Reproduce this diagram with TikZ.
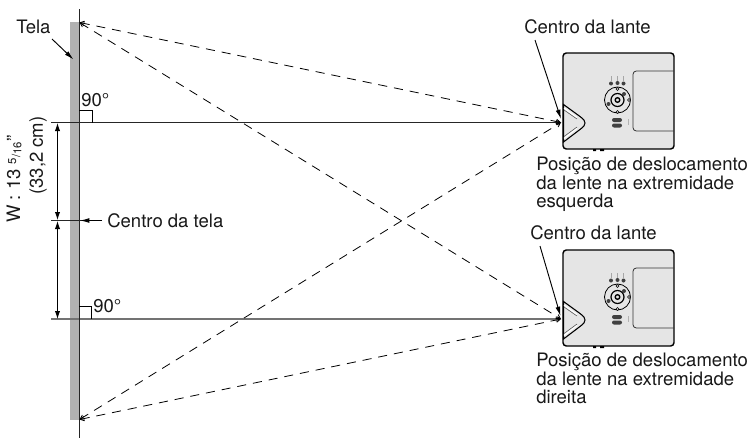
\documentclass[tikz,border=0pt]{standalone}
\usepackage{fontspec}
\setmainfont{TeX Gyre Heros}
\usetikzlibrary{arrows.meta}
\definecolor{scr}{gray}{0.7}
\definecolor{body}{gray}{0.9}
\tikzset{
  x=0.75pt,y=-0.75pt,
  lbl/.style={inner sep=0pt,font=\fontsize{13.9pt}{13.1pt}\selectfont,text=black!90},
  para/.style={lbl,align=left,anchor=north west},
  ln/.style={line width=0.7pt,black!85},
  dim/.style={line width=0.7pt,black,{Latex[length=6pt,width=4pt]}-{Latex[length=6pt,width=4pt]}},
  ptr/.style={line width=0.7pt,black,-{Latex[length=7pt,width=3.6pt]}},
  ray/.style={line width=0.6pt,black,dash pattern=on 6.8pt off 5.2pt,{Straight Barb[length=3pt,width=3.5pt]}-{Straight Barb[length=3pt,width=3.5pt]}},
  pj/.style={draw=black,line width=0.9pt},
  pjd/.style={fill=black!75},
}
\newcommand{\projector}[1]{%
\begin{scope}[yshift=#1]
  \filldraw[pj,fill=body,rounded corners=2.5pt,line width=1.1pt] (563,53) rectangle (674,149);
  \filldraw[pj,fill=body,line width=0.8pt] (563.5,104.5) -- (580,116.5) .. controls (584,119.5) and (585,121) .. (585,123) .. controls (585,125) and (584,126.5) .. (580,129.5) -- (563.5,142) -- cycle;
  \draw[line width=0.9pt,white] (564,108) -- (577,117.5) (564,138.5) -- (577,128.5);
  \draw[line width=0.4pt,black!70] (564,110) -- (577,119) (564,136.5) -- (577,127);
  \draw[draw=black!80,rounded corners=2.5pt,line width=0.6pt] (674,71) -- (633,71) -- (633,131) -- (674,131);
  \fill[pjd] (611,83.5) circle (2) (617.5,83) circle (2) (623.5,83.5) circle (2);
  \draw[line width=0.25pt,black!35] (611,76) -- (611,81) (617.5,76) -- (617.5,81) (623.5,76) -- (623.5,81);
  \draw[line width=0.6pt] (617.5,100) circle (13);
  \draw[line width=0.9pt,fill=body] (617.5,100) circle (6.5);
  \draw[line width=1pt,fill=body] (617.5,100) circle (2.3);
  \filldraw[fill=body,line width=0.4pt] (617.5,89) circle (1.5) (617.5,112) circle (1.5) (629,100) circle (1.5);
  \fill[pjd] (608.5,104) circle (2) (624,94) circle (2);
  \fill[pjd,rounded corners=1.5pt] (612,118) rectangle (622,122);
  \fill[pjd,rounded corners=1.5pt] (612,123.5) rectangle (622,127.5);
  \fill[black!30] (627.5,119) rectangle (629,125);
  \fill[black] (593,149) rectangle (596,151) (600,149) rectangle (604,151);
\end{scope}}
\begin{document}
\begin{tikzpicture}
\useasboundingbox (0,0) rectangle (751,439);
\fill[white] (0,0) rectangle (751,439);
\fill[scr] (70,22) rectangle (79,420);
\coordinate (st) at (79,9);
\coordinate (sb) at (79,438);
\coordinate (tl) at (79.5,22.5);
\coordinate (bl) at (79.5,419.5);
\coordinate (lu) at (561,122.5);
\coordinate (ll) at (561,319);
\coordinate (du) at (51,122.5);
\coordinate (dd) at (51,319);
\coordinate (dua) at (57.5,123);
\coordinate (dda) at (57.5,319);
\coordinate (dma) at (57.5,220);
\coordinate (dmb) at (57.5,221);
\coordinate (cl) at (51,220.5);
\coordinate (cr) at (102,220.5);
\coordinate (ca) at (80,220.5);
\draw[ln,-{Straight Barb[length=3pt,width=3.5pt]}] (du) -- (lu);
\draw[ln,black!55,line width=0.9pt,-{Straight Barb[length=3pt,width=3.5pt]}] (dd) -- (ll);
\draw[ln] (st) -- (sb);
\draw[ln] (cl) -- (cr);
\draw[ptr] (cr) -- (ca);
\draw[dim] (dua) -- (dma);
\draw[dim] (dmb) -- (dda);
\draw[ray] (tl) -- (lu);
\draw[ray] (tl) -- (ll);
\draw[ray] (bl) -- (lu);
\draw[ray] (bl) -- (ll);
\draw[line width=0.6pt] (79,110) -- (92,110) -- (92,122.5);
\draw[line width=0.6pt] (79,306) -- (91,306) -- (91,319);
\projector{0}
\begin{scope}[shift={(0,197)}]
\projector{0}
\end{scope}
\node[lbl,anchor=west] (t) at (16,27) {Tela};
\coordinate (ts) at (52,39);
\coordinate (tp) at (73.5,59.5);
\draw[ptr] (ts) -- (tp);
\node[lbl,anchor=west] (a90) at (81,100) {90°};
\node[lbl,anchor=west] (b90) at (93,306) {90°};
\node[lbl,anchor=west] (cm) at (107,221) {Centro da tela};
\node[lbl,anchor=west] (c1) at (524,27) {Centro da lante};
\node[lbl,anchor=west] (c2) at (530,233) {Centro da lante};
\coordinate (s1) at (535,40);
\coordinate (s2) at (540,246);
\coordinate (p1) at (561,119);
\coordinate (p2) at (560.5,316);
\draw[ptr] (s1) -- (p1);
\draw[ptr] (s2) -- (p2);
\node[para] (x1) at (536,157) {Posição de deslocamento\\da lente na extremidade\\esquerda};
\node[para] (x2) at (536,353) {Posição de deslocamento\\da lente na extremidade\\direita};
\node[lbl,rotate=90,anchor=west] (w) at (14,223) {W : 13 \raisebox{3pt}{\fontsize{8.5pt}{8.5pt}\selectfont 5}{\fontsize{8.5pt}{8.5pt}\selectfont/\raisebox{-1pt}{16}}"};
\node[lbl,rotate=90,anchor=west] (cmv) at (38,195) {(33,2 cm)};
\end{tikzpicture}
\end{document}
